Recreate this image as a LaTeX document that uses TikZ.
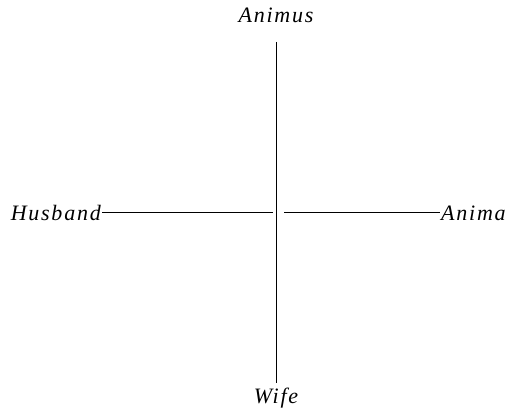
\documentclass[tikz,border=0pt]{standalone}
\usepackage{fontspec}
\newfontfamily\pairfont{Liberation Serif}[LetterSpace=8]
\usetikzlibrary{calc}
\tikzset{pole/.style={font=\pairfont\itshape\fontsize{22}{26}\selectfont,inner sep=1pt},axis/.style={line width=1pt}}
\begin{document}
\begin{tikzpicture}[x=1pt,y=-1pt]
\useasboundingbox(0,0)rectangle(523,414);
\node[pole](animus)at(276,15){Animus};\node[pole](wife)at(276,398){Wife};
\node[pole,anchor=east](husband)at(102,213){Husband};\node[pole,anchor=west](anima)at(440,213){Anima};
\coordinate(top)at(276,42);\coordinate(bot)at(276,383);\coordinate(hl)at(273,213);\coordinate(hr)at(284,213);
\draw[axis](top)--(bot);\draw[axis](husband.east)--(hl);\draw[axis](hr)--(anima.west);
\end{tikzpicture}
\end{document}
